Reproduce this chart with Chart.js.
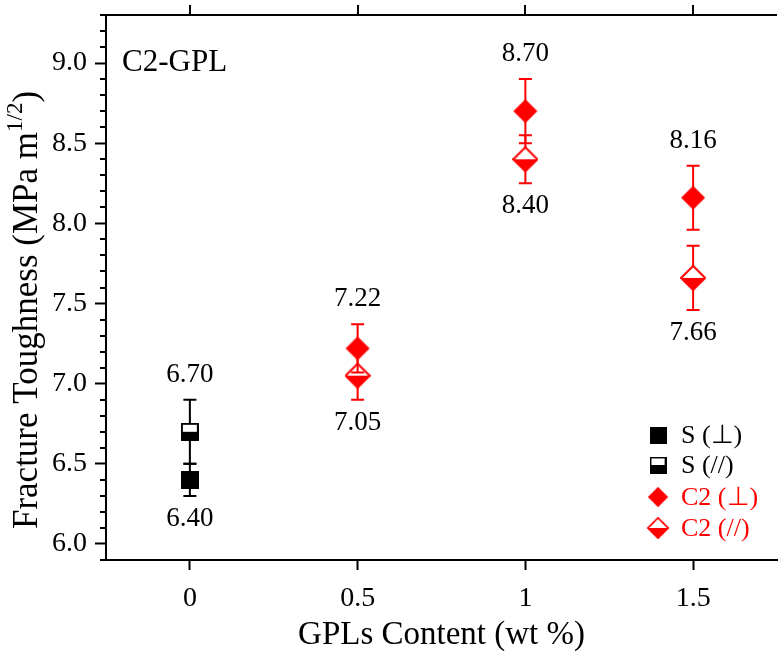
<!DOCTYPE html>
<html>
<head>
<meta charset="utf-8">
<script src="https://cdn.jsdelivr.net/npm/chart.js@4.4.1/dist/chart.umd.min.js"></script>
<style>
  html, body { margin: 0; padding: 0; background: #fff; overflow: hidden; }
  #wrap { width: 782px; height: 655px; }
</style>
</head>
<body>
<div id="wrap"><canvas id="chart" width="782" height="655"></canvas></div>
<script>
// Axis ticks
const xTicks = [0, 0.5, 1, 1.5];
const yTicks = [6.0, 6.5, 7.0, 7.5, 8.0, 8.5, 9.0];

// S (monolithic) samples
const sX = [0];
const sPerpValues = [6.40];
const sPerpErrors = [0.10];
const sParValues = [6.70];
const sParErrors = [0.20];

// C2-GPL samples
const c2X = [0.5, 1, 1.5];
const c2PerpValues = [7.22, 8.70, 8.16];
const c2PerpErrors = [0.15, 0.20, 0.20];
const c2ParValues = [7.05, 8.40, 7.66];
const c2ParErrors = [0.15, 0.15, 0.20];

const seriesNames = ['S (\u22A5)', 'S (//)', 'C2 (\u22A5)', 'C2 (//)'];

const RED = '#ff0000';
const SERIF = "'Liberation Serif', 'Times New Roman', serif";

// Marker images (full and half filled)
function makeSquare(half) {
  const c = document.createElement('canvas');
  c.width = 18; c.height = 18;
  const g = c.getContext('2d');
  if (half) {
    g.fillStyle = '#fff';
    g.fillRect(0, 0, 18, 18);
    g.fillStyle = '#000';
    g.fillRect(0, 9, 18, 9);
    g.strokeStyle = '#000';
    g.lineWidth = 2;
    g.strokeRect(1, 1, 16, 16);
  } else {
    g.fillStyle = '#000';
    g.fillRect(0, 0, 18, 18);
  }
  return c;
}

function makeDiamond(half) {
  const s = 26, h = s / 2;
  const c = document.createElement('canvas');
  c.width = s; c.height = s;
  const g = c.getContext('2d');
  g.beginPath();
  g.moveTo(h, 1); g.lineTo(s - 1, h); g.lineTo(h, s - 1); g.lineTo(1, h); g.closePath();
  if (half) {
    g.fillStyle = '#fff';
    g.fill();
    g.beginPath();
    g.moveTo(1, h); g.lineTo(s - 1, h); g.lineTo(h, s - 1); g.closePath();
    g.fillStyle = RED;
    g.fill();
    g.beginPath();
    g.moveTo(h, 1); g.lineTo(s - 1, h); g.lineTo(h, s - 1); g.lineTo(1, h); g.closePath();
    g.strokeStyle = RED;
    g.lineWidth = 2;
    g.stroke();
  } else {
    g.fillStyle = RED;
    g.fill();
  }
  return c;
}

const markers = [makeSquare(false), makeSquare(true), makeDiamond(false), makeDiamond(true)];
const colors = ['#000', '#000', RED, RED];
const errors = [sPerpErrors, sParErrors, c2PerpErrors, c2ParErrors];

function pts(xs, ys) {
  return xs.map((x, i) => ({ x, y: ys[i] }));
}

// Error bars for one dataset, drawn just before its markers
const errorBarPlugin = {
  id: 'errorBars',
  beforeDatasetDraw(chart, args) {
    const i = args.index;
    const ds = chart.data.datasets[i];
    const { x: xs, y: ys } = chart.scales;
    const ctx = chart.ctx;
    ctx.save();
    ctx.strokeStyle = colors[i];
    ctx.lineWidth = 2;
    ds.data.forEach((p, j) => {
      const e = errors[i][j];
      const px = xs.getPixelForValue(p.x);
      const top = ys.getPixelForValue(p.y + e);
      const bot = ys.getPixelForValue(p.y - e);
      ctx.beginPath();
      ctx.moveTo(px, top); ctx.lineTo(px, bot);
      ctx.moveTo(px - 6.5, top); ctx.lineTo(px + 6.5, top);
      ctx.moveTo(px - 6.5, bot); ctx.lineTo(px + 6.5, bot);
      ctx.stroke();
    });
    ctx.restore();
  }
};

// Value labels: higher point of each pair above, lower below
const valueLabelPlugin = {
  id: 'valueLabels',
  afterDatasetsDraw(chart) {
    const { x: xs, y: ys } = chart.scales;
    const ctx = chart.ctx;
    const ds = chart.data.datasets;
    ctx.save();
    ctx.font = '27px ' + SERIF;
    ctx.fillStyle = '#000';
    ctx.textAlign = 'center';
    ctx.textBaseline = 'middle';
    [[0, 1], [2, 3]].forEach(([a, b]) => {
      ds[a].data.forEach((p, j) => {
        const q = ds[b].data[j];
        const hi = p.y >= q.y ? [a, p] : [b, q];
        const lo = p.y >= q.y ? [b, q] : [a, p];
        const px = xs.getPixelForValue(p.x);
        const hiIdx = ds[hi[0]].data.indexOf(hi[1]);
        const loIdx = ds[lo[0]].data.indexOf(lo[1]);
        const yHi = ys.getPixelForValue(hi[1].y + errors[hi[0]][hiIdx]) - 25;
        const yLo = ys.getPixelForValue(lo[1].y - errors[lo[0]][loIdx]) + 23;
        ctx.fillText(hi[1].y.toFixed(2), px, yHi);
        ctx.fillText(lo[1].y.toFixed(2), px, yLo);
      });
    });
    ctx.restore();
  }
};

// Frame extras: top axis, minor ticks, y title, annotation, legend
const framePlugin = {
  id: 'frame',
  afterDraw(chart) {
    const { ctx, chartArea: a } = chart;
    const { x: xs, y: ys } = chart.scales;
    ctx.save();
    ctx.strokeStyle = '#000';
    ctx.lineWidth = 2;
    ctx.beginPath();
    ctx.moveTo(a.left - 1, a.top); ctx.lineTo(a.right, a.top);
    xTicks.forEach(v => {
      const px = Math.round(xs.getPixelForValue(v));
      ctx.moveTo(px, a.top); ctx.lineTo(px, a.top - 10);
    });
    for (let i = 59; i <= 93; i++) {
      if (i % 5 === 0) continue;
      const py = Math.round(ys.getPixelForValue(i / 10));
      ctx.moveTo(a.left - 6, py); ctx.lineTo(a.left, py);
    }
    ctx.stroke();

    // y axis title with superscript
    ctx.save();
    ctx.translate(28, 310);
    ctx.rotate(-Math.PI / 2);
    ctx.fillStyle = '#000';
    ctx.textBaseline = 'middle';
    ctx.textAlign = 'left';
    const mainFont = '35px ' + SERIF;
    const supFont = '23px ' + SERIF;
    const parts = [['Fracture Toughness (MPa m', mainFont, 0], ['1/2', supFont, -12], [')', mainFont, 0]];
    let total = 0;
    parts.forEach(p => { ctx.font = p[1]; total += ctx.measureText(p[0]).width; });
    let cx = -total / 2;
    parts.forEach(p => {
      ctx.font = p[1];
      ctx.fillText(p[0], cx, p[2]);
      cx += ctx.measureText(p[0]).width;
    });
    ctx.restore();

    // annotation
    ctx.fillStyle = '#000';
    ctx.font = '31px ' + SERIF;
    ctx.textAlign = 'left';
    ctx.textBaseline = 'middle';
    ctx.fillText('C2-GPL', 122, 63);

    // legend
    ctx.font = '26px ' + SERIF;
    const rowY = [435, 465, 497, 528];
    seriesNames.forEach((name, i) => {
      const m = markers[i];
      const sz = i < 2 ? 17 : 22;
      ctx.drawImage(m, 658 - sz / 2, rowY[i] - sz / 2, sz, sz);
      ctx.fillStyle = colors[i];
      ctx.fillText(name, 681, rowY[i] + 1);
    });
    ctx.restore();
  }
};

new Chart(document.getElementById('chart'), {
  type: 'scatter',
  data: {
    datasets: [
      { label: seriesNames[0], data: pts(sX, sPerpValues), pointStyle: markers[0] },
      { label: seriesNames[1], data: pts(sX, sParValues), pointStyle: markers[1] },
      { label: seriesNames[2], data: pts(c2X, c2PerpValues), pointStyle: markers[2] },
      { label: seriesNames[3], data: pts(c2X, c2ParValues), pointStyle: markers[3] }
    ]
  },
  options: {
    responsive: false,
    animation: false,
    layout: { padding: { top: 15, right: 3, left: 0, bottom: 0 } },
    plugins: {
      legend: { display: false },
      tooltip: { enabled: false }
    },
    scales: {
      x: {
        type: 'linear',
        min: -0.25,
        max: 1.75,
        afterBuildTicks: s => { s.ticks = xTicks.map(v => ({ value: v })); },
        afterFit: s => { s.height = 95; },
        border: { color: '#000', width: 2 },
        grid: { drawOnChartArea: false, drawTicks: true, tickLength: 10, tickWidth: 2, tickColor: '#000' },
        ticks: {
          color: '#000',
          padding: 15,
          maxRotation: 0,
          font: { family: SERIF, size: 28, lineHeight: 1 },
          callback: v => String(v)
        },
        title: {
          display: true,
          text: 'GPLs Content (wt %)',
          color: '#000',
          font: { family: SERIF, size: 33 },
          padding: { top: 0, bottom: 0 }
        }
      },
      y: {
        type: 'linear',
        min: 5.9,
        max: 9.3,
        afterBuildTicks: s => { s.ticks = yTicks.map(v => ({ value: v })); },
        afterFit: s => { s.width = 106; },
        border: { color: '#000', width: 2 },
        grid: { drawOnChartArea: false, drawTicks: true, tickLength: 11, tickWidth: 2, tickColor: '#000' },
        ticks: {
          color: '#000',
          padding: 8,
          font: { family: SERIF, size: 28, lineHeight: 0.3 },
          callback: v => v.toFixed(1)
        }
      }
    }
  },
  plugins: [errorBarPlugin, valueLabelPlugin, framePlugin]
});
</script>
</body>
</html>
